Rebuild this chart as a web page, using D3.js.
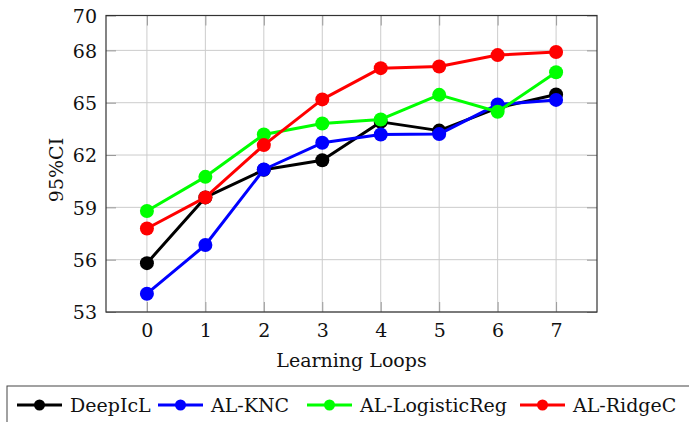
<!DOCTYPE html>
<html>
<head>
<meta charset="utf-8">
<script src="https://cdn.jsdelivr.net/npm/d3@7"></script>
<style>
  body { margin: 0; background: #fff; }
  svg text { font-family: "DejaVu Serif", serif; fill: #111; }
</style>
</head>
<body>
<div id="chart"></div>
<script>
// Data
const loops = [0, 1, 2, 3, 4, 5, 6, 7];
const yTicks = [53, 56, 59, 62, 65, 68, 70];

const deepIcL      = [55.8, 59.57, 61.15, 61.7, 63.9, 63.4, 64.7, 65.47];
const alKNC        = [54.05, 56.84, 61.17, 62.7, 63.18, 63.2, 64.9, 65.16];
const alLogistic   = [58.79, 60.75, 63.18, 63.81, 64.04, 65.45, 64.48, 66.75];
const alRidge      = [57.79, 59.57, 62.57, 65.19, 66.98, 67.08, 67.73, 67.91];

const seriesNames  = ["DeepIcL", "AL-KNC", "AL-LogisticReg", "AL-RidgeC"];
const seriesColors = ["#000000", "#0000ff", "#00ff00", "#ff0000"];
const seriesValues = [deepIcL, alKNC, alLogistic, alRidge];

const totalW = 689, totalH = 422;
const margin = { top: 15.5, right: 92, bottom: 110, left: 106 },
      width = totalW - margin.left - margin.right,
      height = totalH - margin.top - margin.bottom;

const fontSize = 19;

const svg = d3.select("#chart").append("svg")
              .attr("width", totalW)
              .attr("height", totalH);

const g = svg.append("g")
             .attr("transform", `translate(${margin.left},${margin.top})`);

const x = d3.scaleLinear().domain([-0.7, 7.7]).range([0, width]);
const y = d3.scaleLinear().domain([53, 70]).range([height, 0]);

// Grid
g.append("g")
 .selectAll("line")
 .data(loops)
 .enter().append("line")
 .attr("x1", d => x(d)).attr("x2", d => x(d))
 .attr("y1", 0).attr("y2", height)
 .attr("stroke", "#cccccc").attr("stroke-width", 1);

g.append("g")
 .selectAll("line")
 .data(yTicks)
 .enter().append("line")
 .attr("x1", 0).attr("x2", width)
 .attr("y1", d => y(d)).attr("y2", d => y(d))
 .attr("stroke", "#cccccc").attr("stroke-width", 1);

// Ticks (inside, all four sides)
const tickLen = 10;
const xAxisB = d3.axisBottom(x).tickValues(loops).tickSize(-tickLen).tickFormat(d3.format("d"));
const xAxisT = d3.axisTop(x).tickValues(loops).tickSize(-tickLen).tickFormat("");
const yAxisL = d3.axisLeft(y).tickValues(yTicks).tickSize(-tickLen).tickFormat(d3.format("d"));
const yAxisR = d3.axisRight(y).tickValues(yTicks).tickSize(-tickLen).tickFormat("");

function styleAxis(sel) {
    sel.select(".domain").remove();
    sel.selectAll(".tick line").attr("stroke", "#999999").attr("stroke-width", 1);
    sel.selectAll(".tick text")
       .attr("font-size", fontSize)
       .attr("font-family", null)
       .attr("fill", "#111");
}

const gxb = g.append("g").attr("transform", `translate(0,${height})`).call(xAxisB).call(styleAxis);
gxb.selectAll(".tick text").attr("y", 25).attr("dy", 0);
g.append("g").call(xAxisT).call(styleAxis);
const gyl = g.append("g").call(yAxisL).call(styleAxis);
gyl.selectAll(".tick text").attr("x", -9).attr("dy", "0.36em");
g.append("g").attr("transform", `translate(${width},0)`).call(yAxisR).call(styleAxis);

// Frame
g.append("rect")
 .attr("x", 0).attr("y", 0)
 .attr("width", width).attr("height", height)
 .attr("fill", "none").attr("stroke", "#333333").attr("stroke-width", 1.2);

// Lines and markers
const line = d3.line()
               .x((d, i) => x(loops[i]))
               .y(d => y(d));

seriesValues.forEach((vals, k) => {
    g.append("path")
     .datum(vals)
     .attr("fill", "none")
     .attr("stroke", seriesColors[k])
     .attr("stroke-width", 3)
     .attr("stroke-linejoin", "round")
     .attr("d", line);

    g.selectAll(".pt" + k)
     .data(vals)
     .enter().append("circle")
     .attr("class", "pt" + k)
     .attr("cx", (d, i) => x(loops[i]))
     .attr("cy", d => y(d))
     .attr("r", 7)
     .attr("fill", seriesColors[k]);
});

// Axis titles
svg.append("text")
   .attr("x", margin.left + width / 2)
   .attr("y", 367)
   .attr("text-anchor", "middle")
   .attr("font-size", fontSize)
   .text("Learning Loops");

svg.append("text")
   .attr("transform", `translate(63,170) rotate(-90)`)
   .attr("text-anchor", "middle")
   .attr("font-size", fontSize)
   .text("95%CI");

// Legend
const legend = svg.append("g");
legend.append("rect")
      .attr("x", 7).attr("y", 386)
      .attr("width", 700).attr("height", 60)
      .attr("fill", "#fff").attr("stroke", "#444444").attr("stroke-width", 1);

const legendX = [17, 158, 307, 520];
const legendY = 405;
seriesNames.forEach((name, k) => {
    const lx = legendX[k];
    legend.append("line")
          .attr("x1", lx).attr("x2", lx + 45)
          .attr("y1", legendY).attr("y2", legendY)
          .attr("stroke", seriesColors[k]).attr("stroke-width", 3);
    legend.append("circle")
          .attr("cx", lx + 22.5).attr("cy", legendY)
          .attr("r", 5.5).attr("fill", seriesColors[k]);
    legend.append("text")
          .attr("x", lx + 53).attr("y", 412)
          .attr("font-size", fontSize)
          .text(name);
});
</script>
</body>
</html>
